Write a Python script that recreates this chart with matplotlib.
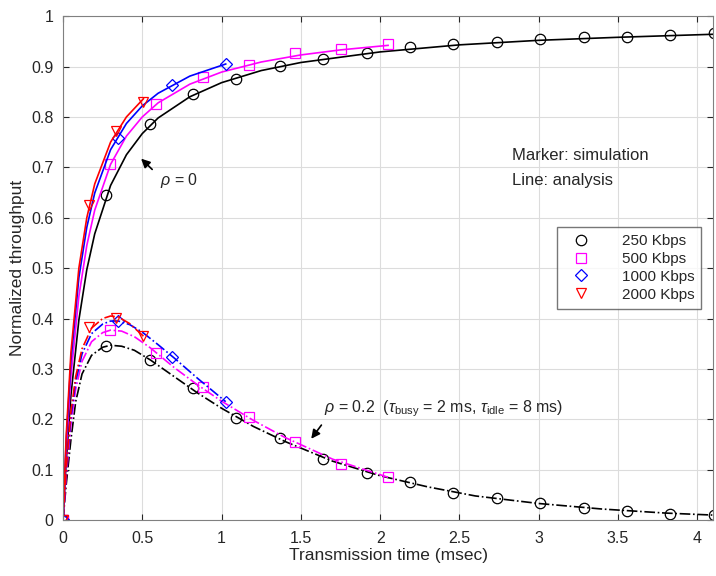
import numpy as np
import matplotlib
matplotlib.use("Agg")
from matplotlib import pyplot as plt

plt.rcParams['font.family'] = ['Liberation Sans', 'DejaVu Sans']
plt.rcParams['mathtext.fontset'] = 'custom'
plt.rcParams['mathtext.rm'] = 'Liberation Sans'
plt.rcParams['mathtext.it'] = 'Liberation Sans:italic'

rates = ["250 Kbps", "500 Kbps", "1000 Kbps", "2000 Kbps"]
colors = ["black", "#ff00ff", "blue", "red"]
markers = ["o", "s", "D", "v"]

# simulation points (markers), rho = 0 and rho = 0.2
sim_x = [
    [0, 0.274, 0.547, 0.821, 1.094, 1.368, 1.642, 1.915, 2.189, 2.462, 2.736, 3.010, 3.283, 3.557, 3.830, 4.104],
    [0, 0.297, 0.588, 0.880, 1.172, 1.464, 1.756, 2.048],
    [0, 0.345, 0.686, 1.026],
    [0, 0.166, 0.336, 0.507],
]
sim_rho0 = [
    [0, 0.645, 0.785, 0.845, 0.876, 0.901, 0.914, 0.927, 0.939, 0.944, 0.948, 0.954, 0.958, 0.959, 0.963, 0.966],
    [0, 0.706, 0.825, 0.880, 0.904, 0.926, 0.935, 0.944],
    [0, 0.759, 0.864, 0.906],
    [0, 0.625, 0.772, 0.830],
]
sim_rho02 = [
    [0, 0.345, 0.317, 0.263, 0.203, 0.163, 0.121, 0.094, 0.075, 0.053, 0.043, 0.034, 0.025, 0.018, 0.0125, 0.010],
    [0, 0.377, 0.332, 0.265, 0.204, 0.155, 0.112, 0.086],
    [0, 0.395, 0.324, 0.235],
    [0, 0.384, 0.402, 0.365],
]

# analysis curves, rho = 0
ana0_x = [
    [0, 0.02, 0.05, 0.1, 0.15, 0.2, 0.3, 0.4, 0.5, 0.6, 0.8, 1.0, 1.25, 1.5, 2.0, 2.5, 3.0, 3.5, 4.1],
    [0, 0.02, 0.05, 0.1, 0.15, 0.2, 0.3, 0.4, 0.5, 0.6, 0.8, 1.0, 1.25, 1.5, 1.75, 2.05],
    [0, 0.02, 0.05, 0.1, 0.15, 0.2, 0.3, 0.4, 0.5, 0.6, 0.8, 1.026],
    [0, 0.02, 0.05, 0.1, 0.15, 0.2, 0.3, 0.4, 0.507],
]
ana0_y = [
    [0, 0.116, 0.248, 0.397, 0.497, 0.568, 0.664, 0.725, 0.767, 0.798, 0.840, 0.868, 0.892, 0.908, 0.929, 0.943, 0.952, 0.958, 0.964],
    [0, 0.138, 0.286, 0.444, 0.545, 0.615, 0.706, 0.762, 0.800, 0.828, 0.865, 0.889, 0.909, 0.923, 0.933, 0.942],
    [0, 0.156, 0.316, 0.481, 0.581, 0.649, 0.735, 0.787, 0.822, 0.847, 0.881, 0.905],
    [0, 0.167, 0.333, 0.500, 0.600, 0.667, 0.750, 0.800, 0.836],
]

# analysis curves, rho = 0.2
ana2_x = [
    [0, 0.02, 0.05, 0.08, 0.12, 0.18, 0.25, 0.3, 0.37, 0.45, 0.55, 0.7, 0.85, 1.0, 1.2, 1.4, 1.7, 2.0, 2.3, 2.6, 3.0, 3.4, 3.8, 4.1],
    [0, 0.02, 0.05, 0.08, 0.12, 0.18, 0.25, 0.3, 0.37, 0.45, 0.55, 0.7, 0.85, 1.0, 1.2, 1.4, 1.7, 2.05],
    [0, 0.02, 0.05, 0.08, 0.12, 0.18, 0.25, 0.3, 0.35, 0.42, 0.5, 0.6, 0.7, 0.85, 1.026],
    [0, 0.02, 0.05, 0.08, 0.12, 0.18, 0.25, 0.3, 0.35, 0.42, 0.507],
]
ana2_y = [
    [0, 0.07, 0.16, 0.235, 0.29, 0.327, 0.343, 0.347, 0.345, 0.337, 0.318, 0.285, 0.252, 0.222, 0.186, 0.156, 0.117, 0.088, 0.066, 0.048, 0.033, 0.022, 0.014, 0.010],
    [0, 0.085, 0.19, 0.26, 0.315, 0.354, 0.372, 0.377, 0.375, 0.364, 0.342, 0.303, 0.268, 0.236, 0.198, 0.164, 0.121, 0.085],
    [0, 0.095, 0.205, 0.275, 0.33, 0.370, 0.389, 0.395, 0.395, 0.388, 0.373, 0.348, 0.322, 0.281, 0.235],
    [0, 0.10, 0.215, 0.285, 0.34, 0.381, 0.400, 0.405, 0.403, 0.390, 0.365],
]

txt = "#262626"
fig = plt.figure(figsize=(7.16, 5.76), dpi=100)
ax = fig.add_axes([0.088, 0.097, 0.908, 0.875])

for i in range(4):
    ms = 7.5 if i != 2 else 6.5
    ax.plot(ana0_x[i], ana0_y[i], "-", color=colors[i], lw=1.2)
    ax.plot(ana2_x[i], ana2_y[i], "-.", color=colors[i], lw=1.2)
    for sy in (sim_rho0[i], sim_rho02[i]):
        ax.plot(sim_x[i], sy, linestyle="none", marker=markers[i], ms=ms,
                mfc="none", mec=colors[i], mew=0.9)
    # legend handle
    ax.plot([], [], linestyle="none", marker=markers[i], ms=ms,
            mfc="none", mec=colors[i], mew=0.9, label=rates[i])

ax.set_xlim(0, 4.1)
ax.set_ylim(0, 1)
ax.set_xticks(np.arange(0, 4.01, 0.5))
ax.set_xticklabels(["0", "0.5", "1", "1.5", "2", "2.5", "3", "3.5", "4"])
ax.set_yticks(np.arange(0, 1.01, 0.1))
ax.set_yticklabels(["0", "0.1", "0.2", "0.3", "0.4", "0.5", "0.6", "0.7", "0.8", "0.9", "1"])
ax.grid(True, color="#dcdcdc", lw=0.8)
ax.set_axisbelow(True)
ax.tick_params(direction="in", top=True, right=True, labelsize=11.5, colors=txt, length=4)
ax.tick_params(axis="x", pad=8)
ax.tick_params(axis="y", pad=7)
for s in ax.spines.values():
    s.set_color("#808080")
ax.set_xlabel("Transmission time (msec)", fontsize=12.5, color=txt, labelpad=1)
ax.set_ylabel("Normalized throughput", fontsize=12.5, color=txt, labelpad=4)

ax.annotate("", xy=(0.48, 0.721), xytext=(0.575, 0.692),
            arrowprops=dict(arrowstyle="-|>", color="black", lw=1.2, mutation_scale=13))
ax.text(0.61, 0.673, r"$\rho$ = 0", fontsize=11.5, color=txt, va="center")
ax.annotate("", xy=(1.555, 0.157), xytext=(1.64, 0.193),
            arrowprops=dict(arrowstyle="-|>", color="black", lw=1.2, mutation_scale=13))
ax.text(1.645, 0.222, r"$\rho$ = 0.2  ($\tau_{\mathrm{busy}}$ = 2 ms, $\tau_{\mathrm{idle}}$ = 8 ms)",
        fontsize=11.5, color=txt, va="center")

ax.text(2.83, 0.724, "Marker: simulation", fontsize=12, color=txt, va="center")
ax.text(2.83, 0.673, "Line: analysis", fontsize=12, color=txt, va="center")

leg = ax.legend(loc="upper right", bbox_to_anchor=(0.982, 0.581), borderaxespad=0,
                fontsize=11, frameon=True, fancybox=False, edgecolor="#555555",
                handletextpad=1.6, handlelength=2.2, borderpad=0.45, labelspacing=0.25)
leg.get_frame().set_linewidth(1.0)
for t in leg.get_texts():
    t.set_color(txt)

fig.savefig("out.png", dpi=100)
